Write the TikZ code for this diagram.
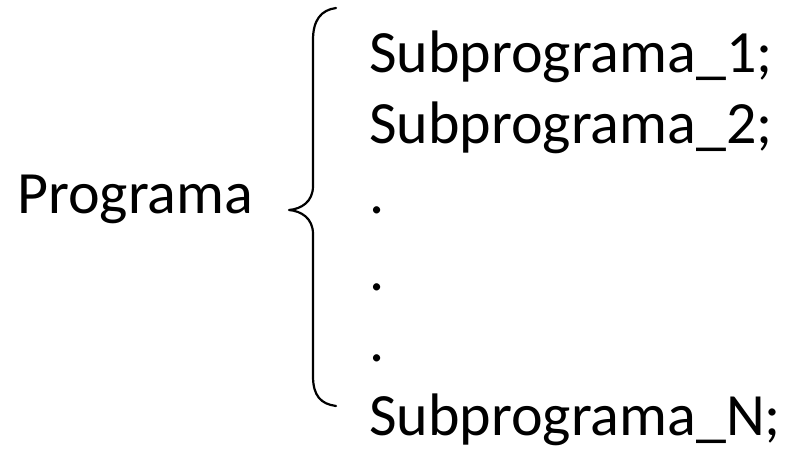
\documentclass[tikz,border=0pt]{standalone}
\usepackage{fontspec}
\setmainfont{Carlito}
\begin{document}
\begin{tikzpicture}[x=1pt,y=-1pt,
  label text/.style={inner sep=0pt,anchor=base west,font=\fontsize{60}{72}\selectfont},
  bracepath/.style={line width=2.2pt,line cap=round,line join=round}]
\useasboundingbox (0,0) rectangle (788,448);
% left label
\node[label text] (prog) at (17,213) {Programa};
% list of parts
\node[label text] (s1) at (369,72) {Subprograma\_1;};
\node[label text] (s2) at (369,143) {Subprograma\_2;};
\node[label text] (d1) at (369,213) {.};
\node[label text] (d2) at (369,290) {.};
\node[label text] (d3) at (369,361) {.};
\node[label text] (sn) at (369,435) {Subprograma\_N;};
% curly brace
\coordinate (btop) at (336,8);
\coordinate (bmid) at (289,210);
\coordinate (bbot) at (336,406);
\draw[bracepath] (btop) .. controls (321,10) and (313,20) .. (313,40)
  -- (313,186) .. controls (313,202) and (301,209) .. (bmid)
  .. controls (301,211) and (313,218) .. (313,234)
  -- (313,376) .. controls (313,396) and (321,404) .. (bbot);
\end{tikzpicture}
\end{document}
